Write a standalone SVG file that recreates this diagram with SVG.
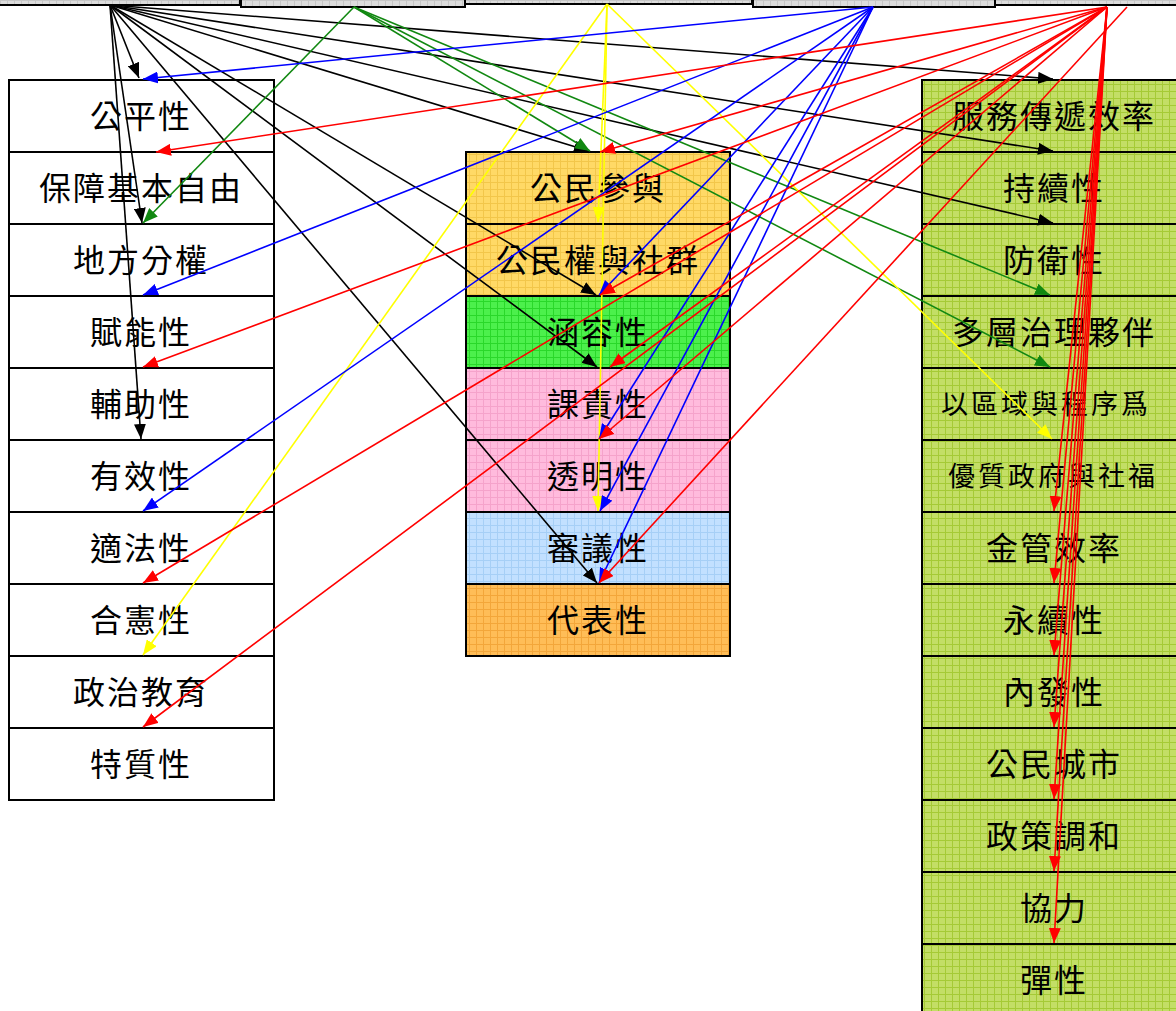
<svg xmlns="http://www.w3.org/2000/svg" width="1176" height="1011" viewBox="0 0 1176 1011">
<style>
.box{stroke:#000;stroke-width:2}
.t{font-family:"Noto Sans CJK TC","Noto Sans CJK SC",sans-serif;font-size:32px;letter-spacing:2px;text-anchor:middle;dominant-baseline:central;fill:#000}
.ts{font-size:27px;letter-spacing:3px}
.c line{stroke-width:1.6;fill:none}
.k line{stroke:#000;marker-end:url(#mk)}
.g line{stroke:#118811;marker-end:url(#mg)}
.y line{stroke:#FFFF00;marker-end:url(#my)}
.b line{stroke:#0000FF;marker-end:url(#mb)}
.r line{stroke:#FF0000;marker-end:url(#mr)}
</style>
<defs>
<pattern id="pGray" width="7" height="7" patternUnits="userSpaceOnUse"><rect width="7" height="7" fill="#DCDCDC"/><path d="M0 0.5H7M0.5 0V7" stroke="#C6C6C6" stroke-width="1"/></pattern>
<pattern id="pGold" width="7" height="7" patternUnits="userSpaceOnUse"><rect width="7" height="7" fill="#FFD966"/><path d="M0 0.5H7M0.5 0V7" stroke="#F2C64A" stroke-width="1"/></pattern>
<pattern id="pLime" width="7" height="7" patternUnits="userSpaceOnUse"><rect width="7" height="7" fill="#4CF04C"/><path d="M0 0.5H7M0.5 0V7" stroke="#2AD82A" stroke-width="1"/></pattern>
<pattern id="pPink" width="7" height="7" patternUnits="userSpaceOnUse"><rect width="7" height="7" fill="#FFBBDD"/><path d="M0 0.5H7M0.5 0V7" stroke="#F5A3CB" stroke-width="1"/></pattern>
<pattern id="pBlue" width="7" height="7" patternUnits="userSpaceOnUse"><rect width="7" height="7" fill="#C2E0FF"/><path d="M0 0.5H7M0.5 0V7" stroke="#A6CFF6" stroke-width="1"/></pattern>
<pattern id="pOrange" width="7" height="7" patternUnits="userSpaceOnUse"><rect width="7" height="7" fill="#FFBD57"/><path d="M0 0.5H7M0.5 0V7" stroke="#F3A63A" stroke-width="1"/></pattern>
<pattern id="pGreen" width="7" height="7" patternUnits="userSpaceOnUse"><rect width="7" height="7" fill="#C3DE66"/><path d="M0 0.5H7M0.5 0V7" stroke="#A5CA36" stroke-width="1"/></pattern>
<marker id="mk" viewBox="0 0 15 12" markerWidth="15" markerHeight="12" refX="15" refY="6" orient="auto" markerUnits="userSpaceOnUse"><path d="M0 0L15 6L0 12z" fill="#000"/></marker>
<marker id="mg" viewBox="0 0 15 12" markerWidth="15" markerHeight="12" refX="15" refY="6" orient="auto" markerUnits="userSpaceOnUse"><path d="M0 0L15 6L0 12z" fill="#118811"/></marker>
<marker id="my" viewBox="0 0 15 12" markerWidth="15" markerHeight="12" refX="15" refY="6" orient="auto" markerUnits="userSpaceOnUse"><path d="M0 0L15 6L0 12z" fill="#FFFF00"/></marker>
<marker id="mb" viewBox="0 0 15 12" markerWidth="15" markerHeight="12" refX="15" refY="6" orient="auto" markerUnits="userSpaceOnUse"><path d="M0 0L15 6L0 12z" fill="#0000FF"/></marker>
<marker id="mr" viewBox="0 0 15 12" markerWidth="15" markerHeight="12" refX="15" refY="6" orient="auto" markerUnits="userSpaceOnUse"><path d="M0 0L15 6L0 12z" fill="#FF0000"/></marker>
</defs>
<rect width="1176" height="1011" fill="#fff"/>

<!-- top source boxes (cut off) -->
<g id="top1"><rect class="box" x="-10" y="-30" width="250" height="35" fill="url(#pGray)"/></g>
<g id="top2"><rect class="box" x="241" y="-30" width="224" height="37" fill="url(#pGray)"/></g>
<g id="top3"><rect class="box" x="465" y="-30" width="287" height="34" fill="url(#pGray)"/></g>
<g id="top4"><rect class="box" x="753" y="-30" width="242" height="37" fill="url(#pGray)"/></g>
<g id="top5"><rect class="box" x="995" y="-30" width="200" height="35" fill="url(#pGray)"/></g>

<!-- left column -->
<g id="L1"><rect class="box" x="9" y="80" width="265" height="72" fill="#fff"/><text class="t" x="141" y="114">公平性</text></g>
<g id="L2"><rect class="box" x="9" y="152" width="265" height="72" fill="#fff"/><text class="t" x="141" y="186">保障基本自由</text></g>
<g id="L3"><rect class="box" x="9" y="224" width="265" height="72" fill="#fff"/><text class="t" x="141" y="258">地方分權</text></g>
<g id="L4"><rect class="box" x="9" y="296" width="265" height="72" fill="#fff"/><text class="t" x="141" y="330">賦能性</text></g>
<g id="L5"><rect class="box" x="9" y="368" width="265" height="72" fill="#fff"/><text class="t" x="141" y="402">輔助性</text></g>
<g id="L6"><rect class="box" x="9" y="440" width="265" height="72" fill="#fff"/><text class="t" x="141" y="474">有效性</text></g>
<g id="L7"><rect class="box" x="9" y="512" width="265" height="72" fill="#fff"/><text class="t" x="141" y="546">適法性</text></g>
<g id="L8"><rect class="box" x="9" y="584" width="265" height="72" fill="#fff"/><text class="t" x="141" y="618">合憲性</text></g>
<g id="L9"><rect class="box" x="9" y="656" width="265" height="72" fill="#fff"/><text class="t" x="141" y="690">政治教育</text></g>
<g id="L10"><rect class="box" x="9" y="728" width="265" height="72" fill="#fff"/><text class="t" x="141" y="762">特質性</text></g>

<!-- middle column -->
<g id="M1"><rect class="box" x="466" y="152" width="264" height="72" fill="url(#pGold)"/><text class="t" x="598" y="186">公民參與</text></g>
<g id="M2"><rect class="box" x="466" y="224" width="264" height="72" fill="url(#pGold)"/><text class="t" x="598" y="258">公民權與社群</text></g>
<g id="M3"><rect class="box" x="466" y="296" width="264" height="72" fill="url(#pLime)"/><text class="t" x="598" y="330">涵容性</text></g>
<g id="M4"><rect class="box" x="466" y="368" width="264" height="72" fill="url(#pPink)"/><text class="t" x="598" y="402">課責性</text></g>
<g id="M5"><rect class="box" x="466" y="440" width="264" height="72" fill="url(#pPink)"/><text class="t" x="598" y="474">透明性</text></g>
<g id="M6"><rect class="box" x="466" y="512" width="264" height="72" fill="url(#pBlue)"/><text class="t" x="598" y="546">審議性</text></g>
<g id="M7"><rect class="box" x="466" y="584" width="264" height="72" fill="url(#pOrange)"/><text class="t" x="598" y="618">代表性</text></g>

<!-- right column -->
<g id="R1"><rect class="box" x="922" y="80" width="270" height="72" fill="url(#pGreen)"/><text class="t" x="1054" y="114">服務傳遞效率</text></g>
<g id="R2"><rect class="box" x="922" y="152" width="270" height="72" fill="url(#pGreen)"/><text class="t" x="1054" y="186">持續性</text></g>
<g id="R3"><rect class="box" x="922" y="224" width="270" height="72" fill="url(#pGreen)"/><text class="t" x="1054" y="258">防衛性</text></g>
<g id="R4"><rect class="box" x="922" y="296" width="270" height="72" fill="url(#pGreen)"/><text class="t" x="1054" y="330">多層治理夥伴</text></g>
<g id="R5"><rect class="box" x="922" y="368" width="270" height="72" fill="url(#pGreen)"/><text class="t ts" x="1046" y="402">以區域與程序爲</text></g>
<g id="R6"><rect class="box" x="922" y="440" width="270" height="72" fill="url(#pGreen)"/><text class="t ts" x="1053" y="474">優質政府與社福</text></g>
<g id="R7"><rect class="box" x="922" y="512" width="270" height="72" fill="url(#pGreen)"/><text class="t" x="1054" y="546">金管效率</text></g>
<g id="R8"><rect class="box" x="922" y="584" width="270" height="72" fill="url(#pGreen)"/><text class="t" x="1054" y="618">永續性</text></g>
<g id="R9"><rect class="box" x="922" y="656" width="270" height="72" fill="url(#pGreen)"/><text class="t" x="1054" y="690">內發性</text></g>
<g id="R10"><rect class="box" x="922" y="728" width="270" height="72" fill="url(#pGreen)"/><text class="t" x="1054" y="762">公民城市</text></g>
<g id="R11"><rect class="box" x="922" y="800" width="270" height="72" fill="url(#pGreen)"/><text class="t" x="1054" y="834">政策調和</text></g>
<g id="R12"><rect class="box" x="922" y="872" width="270" height="72" fill="url(#pGreen)"/><text class="t" x="1054" y="906">協力</text></g>
<g id="R13"><rect class="box" x="922" y="944" width="270" height="90" fill="url(#pGreen)"/><text class="t" x="1054" y="978">彈性</text></g>

<!-- connectors -->
<g id="connectors" class="c">
<g class="k">
<line x1="110" y1="5" x2="139" y2="78"/>
<line x1="110" y1="5" x2="142" y2="223"/>
<line x1="110" y1="5" x2="141" y2="439"/>
<line x1="110" y1="5" x2="589" y2="151"/>
<line x1="110" y1="5" x2="596" y2="295"/>
<line x1="110" y1="5" x2="597" y2="367"/>
<line x1="110" y1="5" x2="597" y2="583"/>
<line x1="110" y1="5" x2="1053" y2="79"/>
<line x1="110" y1="5" x2="1053" y2="151"/>
<line x1="110" y1="5" x2="1053" y2="223"/>
</g>
<g class="g">
<line x1="354" y1="7" x2="143" y2="223"/>
<line x1="354" y1="7" x2="590" y2="151"/>
<line x1="354" y1="7" x2="1050" y2="295"/>
<line x1="354" y1="7" x2="1050" y2="367"/>
</g>
<g class="y">
<line x1="607" y1="4" x2="143" y2="655"/>
<line x1="607" y1="4" x2="598" y2="222"/>
<line x1="607" y1="4" x2="598" y2="511"/>
<line x1="607" y1="4" x2="1052" y2="439"/>
</g>
<g class="b">
<line x1="873" y1="7" x2="143" y2="79"/>
<line x1="873" y1="7" x2="143" y2="295"/>
<line x1="873" y1="7" x2="143" y2="511"/>
<line x1="873" y1="7" x2="599" y2="295"/>
<line x1="873" y1="7" x2="599" y2="439"/>
<line x1="873" y1="7" x2="600" y2="511"/>
<line x1="873" y1="7" x2="599" y2="583"/>
</g>
<g class="r">
<line x1="1107" y1="7" x2="156" y2="152"/>
<line x1="1107" y1="7" x2="143" y2="367"/>
<line x1="1107" y1="7" x2="143" y2="583"/>
<line x1="1107" y1="7" x2="143" y2="727"/>
<line x1="1107" y1="7" x2="600" y2="152"/>
<line x1="1107" y1="7" x2="600" y2="295"/>
<line x1="1107" y1="7" x2="610" y2="367"/>
<line x1="1107" y1="7" x2="599" y2="439"/>
<line x1="1127" y1="7" x2="599" y2="583"/>
<line x1="1107" y1="7" x2="1054" y2="511"/>
<line x1="1107" y1="7" x2="1054" y2="583"/>
<line x1="1107" y1="7" x2="1054" y2="655"/>
<line x1="1107" y1="7" x2="1054" y2="727"/>
<line x1="1107" y1="7" x2="1054" y2="799"/>
<line x1="1107" y1="7" x2="1054" y2="871"/>
<line x1="1107" y1="7" x2="1054" y2="943"/>
</g>
</g>
</svg>
